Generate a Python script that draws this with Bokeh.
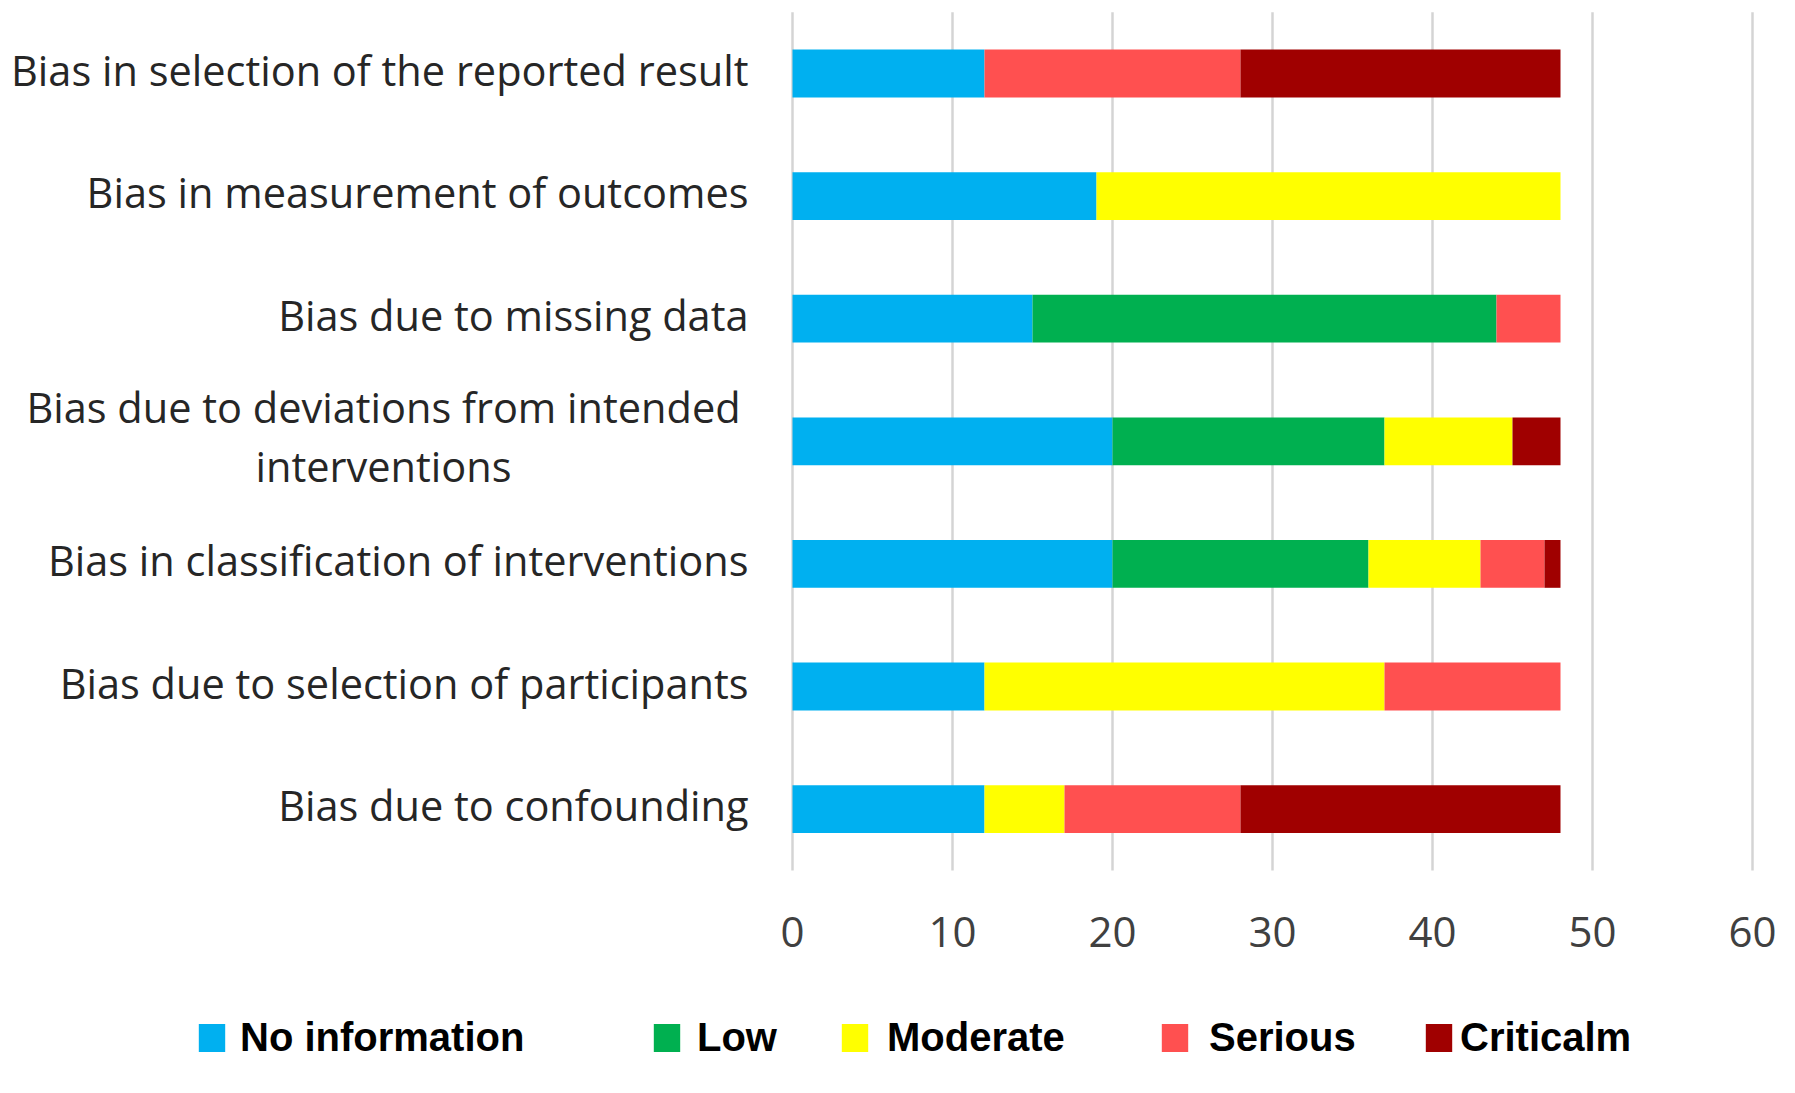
from bokeh.plotting import figure
from bokeh.models import ColumnDataSource, Range1d, Legend, LegendItem
from bokeh.core.properties import value
from bokeh.embed import file_html
from bokeh.resources import INLINE

# ---------------- data ----------------
categories = [
    "Bias in selection of the reported result",
    "Bias in measurement of outcomes",
    "Bias due to missing data",
    "Bias due to deviations from intended\ninterventions",
    "Bias in classification of interventions",
    "Bias due to selection of participants",
    "Bias due to confounding",
]

no_information = [12, 19, 15, 20, 20, 12, 12]
low            = [0, 0, 29, 17, 16, 0, 0]
moderate       = [0, 29, 0, 8, 7, 25, 5]
serious        = [16, 0, 4, 0, 4, 11, 11]
criticalm      = [20, 0, 0, 3, 1, 0, 20]

series_names = ["No information", "Low", "Moderate", "Serious", "Criticalm"]
x_ticks = [0, 10, 20, 30, 40, 50, 60]

# ---------------- layout / style ----------------
W, H = 1779, 1077
zero_px, px_per_unit = 792.0, 16.0          # x = 0 position, pixels per unit
row_top_center_px, row_step_px = 73.0, 122.6
label_right_px = 748.0
label_lift_px = 4.0
two_line_center_px = 383.0
tick_label_center_px = 931.5
font = "Open Sans"
colors = ["#00B0F0", "#00B050", "#FFFF00", "#FF5050", "#A00000"]
keys = ["no_information", "low", "moderate", "serious", "criticalm"]

n = len(categories)
y_top = (n - 1) + row_top_center_px / row_step_px
y_bot = y_top - H / row_step_px
to_x = lambda px: (px - zero_px) / px_per_unit
to_y = lambda px: y_top - px / row_step_px
lift = label_lift_px / row_step_px

y_pos = [n - 1 - i for i in range(n)]
src = ColumnDataSource(dict(cat=categories, y=y_pos, no_information=no_information,
                            low=low, moderate=moderate, serious=serious,
                            criticalm=criticalm))

p = figure(width=W, height=H,
           x_range=Range1d(to_x(0), to_x(W)), y_range=Range1d(y_bot, y_top),
           x_axis_location=None, y_axis_location=None,
           output_backend="svg", toolbar_location=None, min_border=0)
p.outline_line_color = None
p.xgrid.visible = False
p.ygrid.visible = False

# vertical gridlines at the ticks, spanning the category bands
p.segment(x0=x_ticks, x1=x_ticks, y0=[-0.5] * len(x_ticks), y1=[n - 0.5] * len(x_ticks),
          line_color="#d4d4d4", line_width=2.5)

renderers = p.hbar_stack(keys, y="y", height=0.39, color=colors, line_color=None,
                         source=src)

# x tick labels
p.text(x=x_ticks, y=[to_y(tick_label_center_px)] * len(x_ticks),
       text=[str(t) for t in x_ticks], text_align="center", text_baseline="middle",
       text_font=value(font), text_font_size="42px", text_color="#404040")

# category labels
single = [i for i, c in enumerate(categories) if "\n" not in c]
multi = [i for i, c in enumerate(categories) if "\n" in c]
p.text(x=[to_x(label_right_px)] * len(single), y=[y_pos[i] + lift for i in single],
       text=[categories[i] for i in single], text_align="right", text_baseline="middle",
       text_font=value(font), text_font_size="41.5px", text_color="#262626")
p.text(x=[to_x(two_line_center_px)] * len(multi),
       y=[y_pos[i] + lift * 1.25 for i in multi],
       text=[categories[i] for i in multi], text_align="center", text_baseline="middle",
       text_font=value(font), text_font_size="41.5px", text_color="#262626",
       text_line_height=1.05)

# legend: one small legend per series, placed under the axis
legend_left_px = [195, 650, 838, 1158, 1422]
legend_standoffs = [12, 14, 16, 18, 5]
legend_bottom_px = 17
for r, name, lx, so in zip(renderers, series_names, legend_left_px, legend_standoffs):
    leg = Legend(items=[LegendItem(label=name, renderers=[r])],
                 location=(lx, legend_bottom_px), orientation="horizontal",
                 glyph_width=33, glyph_height=35, label_standoff=so,
                 padding=0, margin=0, spacing=0,
                 border_line_color=None, background_fill_alpha=0,
                 label_text_font="Liberation Sans", label_text_font_size="40px",
                 label_text_font_style="bold", label_text_color="#000000")
    p.add_layout(leg, "center")

open("out.html", "w").write(file_html(p, INLINE))
